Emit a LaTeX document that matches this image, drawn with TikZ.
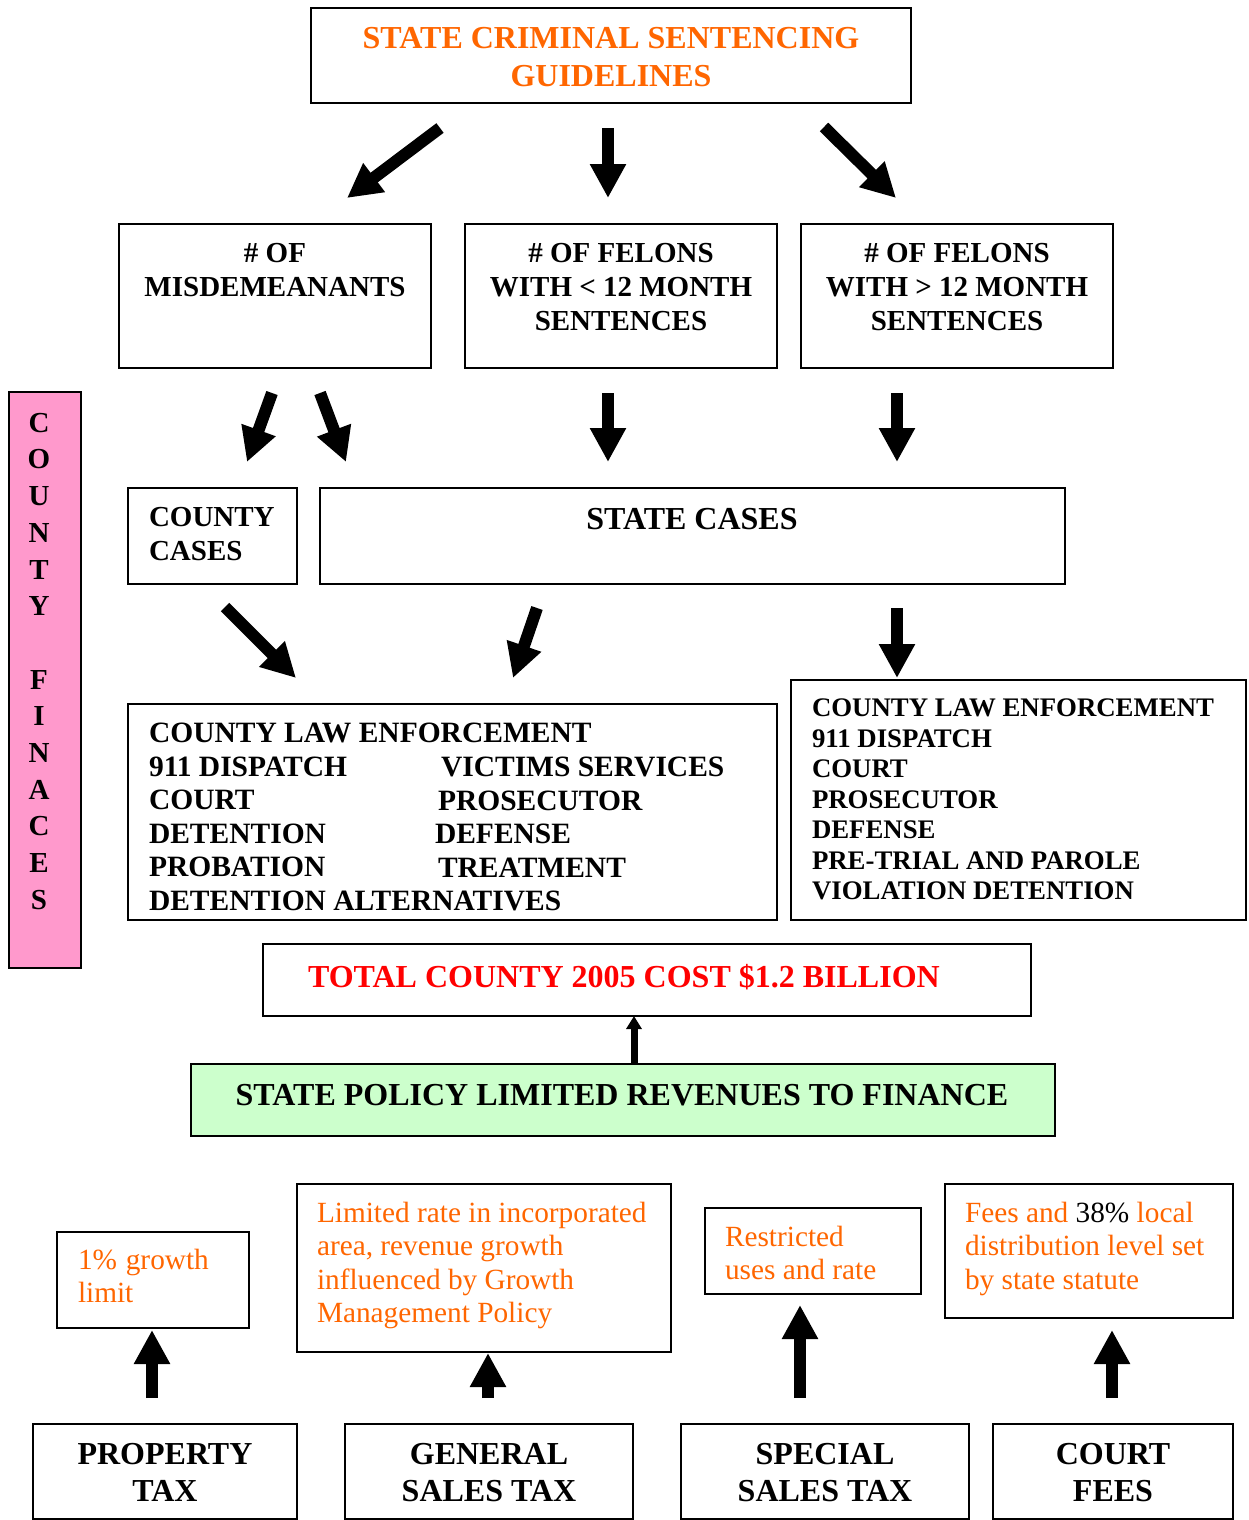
\documentclass[tikz,border=0pt]{standalone}
\usepackage{fontspec}
\setmainfont{Liberation Serif}
\usetikzlibrary{arrows.meta,calc}
\definecolor{orng}{HTML}{FF6600}
\definecolor{pinkfill}{HTML}{FF99CC}
\definecolor{greenfill}{HTML}{CCFFCC}
\newcommand\fBig{\fontsize{32}{38}\selectfont\bfseries}
\newcommand\fMid{\fontsize{29}{34}\selectfont\bfseries}
\newcommand\fLeft{\fontsize{29.5}{33.6}\selectfont\bfseries}
\newcommand\fRight{\fontsize{26.8}{30.5}\selectfont\bfseries}
\newcommand\fBot{\fontsize{32}{37}\selectfont\bfseries}
\newcommand\fOr{\fontsize{29.3}{33.5}\selectfont}
\newcommand\fVert{\fontsize{29}{36.7}\selectfont\bfseries}
\begin{document}
\begin{tikzpicture}[x=1pt,y=-1pt,
  box/.style={draw=black, line width=2.2pt, rectangle, inner sep=0pt, outer sep=0pt},
  txt/.style={inner sep=0pt, outer sep=0pt},
  barrow/.style={line width=12pt, -{Triangle[width=34pt,length=34pt]}},
  sarrow/.style={line width=7pt, -{Triangle[width=15pt,length=13pt]}}]
\useasboundingbox[fill=white] (0,0) rectangle (1248,1520);

% boxes
\node[box, minimum width=600, minimum height=95] (title) at (611,55.5) {};
\node[box, minimum width=312, minimum height=144] (mis) at (275,296) {};
\node[box, minimum width=312, minimum height=144] (fl) at (621,296) {};
\node[box, minimum width=312, minimum height=144] (fg) at (957,296) {};
\node[box, minimum width=72, minimum height=576, fill=pinkfill] (pink) at (45,680) {};
\node[box, minimum width=169, minimum height=96] (cc) at (212.5,536) {};
\node[box, minimum width=745, minimum height=96] (sc) at (692.5,536) {};
\node[box, minimum width=649, minimum height=216] (lb) at (452.5,812) {};
\node[box, minimum width=455, minimum height=240] (rb) at (1018.5,800) {};
\node[box, minimum width=768, minimum height=72] (tot) at (647,980) {};
\node[box, minimum width=864, minimum height=72, fill=greenfill] (grn) at (623,1100) {};
\node[box, minimum width=192, minimum height=96] (g1) at (153,1280) {};
\node[box, minimum width=374, minimum height=168] (g2) at (484,1268) {};
\node[box, minimum width=216, minimum height=86] (g3) at (813,1251) {};
\node[box, minimum width=288, minimum height=134] (g4) at (1089,1251) {};
\node[box, minimum width=264, minimum height=95] (p1) at (165,1471.5) {};
\node[box, minimum width=288, minimum height=95] (p2) at (489,1471.5) {};
\node[box, minimum width=288, minimum height=95] (p3) at (825,1471.5) {};
\node[box, minimum width=240, minimum height=95] (p4) at (1113,1471.5) {};

% texts
\node[txt, font=\fBig, text=orng, align=center, anchor=north] (titletxt) at (611,27) {STATE CRIMINAL SENTENCING\\GUIDELINES};
\node[txt, font=\fMid, align=center, anchor=north] (mistxt) at (275,243) {\# OF\\MISDEMEANANTS};
\node[txt, font=\fMid, align=center, anchor=north] (fltxt) at (621,243) {\# OF FELONS\\WITH < 12 MONTH\\SENTENCES};
\node[txt, font=\fMid, align=center, anchor=north] (fgtxt) at (957,243) {\# OF FELONS\\WITH > 12 MONTH\\SENTENCES};
\node[txt, font=\fVert, align=center, anchor=north] (pinktxt) at (39,413) {C\\O\\U\\N\\T\\Y\\[36.7pt]F\\I\\N\\A\\C\\E\\S};
\node[txt, font=\fMid, align=left, anchor=north west] (cctxt) at (149,507) {COUNTY\\CASES};
\node[txt, font=\fBig, anchor=north] (sctxt) at (692,508) {STATE CASES};
\node[txt, font=\fLeft, align=left, anchor=north west] (lbtxt) at (149,723) {COUNTY LAW ENFORCEMENT\\911 DISPATCH\\COURT\\DETENTION\\PROBATION\\DETENTION ALTERNATIVES};
\node[txt, font=\fLeft, align=left, anchor=north west] (lbtxtb) at (435,757) {\hspace*{6pt}VICTIMS SERVICES\\\hspace*{3pt}PROSECUTOR\\DEFENSE\\\hspace*{3pt}TREATMENT};
\node[txt, font=\fRight, align=left, anchor=north west] (rbtxt) at (812,699) {COUNTY LAW ENFORCEMENT\\911 DISPATCH\\COURT\\PROSECUTOR\\DEFENSE\\PRE-TRIAL AND PAROLE\\VIOLATION DETENTION};
\node[txt, font=\fBig, text=red, anchor=north west] (tottxt) at (308,964) {TOTAL COUNTY 2005 COST \$1.2 BILLION};
\node[txt, font=\fBig, anchor=north] (grntxt) at (622,1084) {STATE POLICY LIMITED REVENUES TO FINANCE};
\node[txt, font=\fOr, text=orng, align=left, anchor=north west] (g1txt) at (78,1249) {1\%\hspace{0.3em}growth\\limit};
\node[txt, font=\fOr, text=orng, align=left, anchor=north west] (g2txt) at (317,1202) {Limited rate in incorporated\\area, revenue growth\\influenced by Growth\\Management Policy};
\node[txt, font=\fOr, text=orng, align=left, anchor=north west] (g3txt) at (725,1226) {Restricted\\uses and rate};
\node[txt, font=\fOr, text=orng, align=left, anchor=north west] (g4txt) at (965,1202) {Fees and {\color{black}38\%} local\\distribution level set\\by state statute};
\node[txt, font=\fBot, align=center, anchor=north] (p1txt) at (165,1443) {PROPERTY\\TAX};
\node[txt, font=\fBot, align=center, anchor=north] (p2txt) at (489,1443) {GENERAL\\SALES TAX};
\node[txt, font=\fBot, align=center, anchor=north] (p3txt) at (825,1443) {SPECIAL\\SALES TAX};
\node[txt, font=\fBot, align=center, anchor=north] (p4txt) at (1113,1443) {COURT\\FEES};

% arrows
\draw[barrow] ($(title.south west)+(129,25)$) -- ($(mis.north)+(72,-26)$);
\draw[barrow] ($(title.south)+(-3,25)$) -- ($(fl.north)+(-13,-26)$);
\draw[barrow] ($(title.south east)+(-87,24)$) -- ($(fg.north)+(-61,-26)$);
\draw[barrow] ($(mis.south)+(-3,25)$) -- ($(cc.north)+(34.5,-26)$);
\draw[barrow] ($(mis.south)+(45,25)$) -- ($(sc.north west)+(26,-26)$);
\draw[barrow] ($(fl.south)+(-13,25)$) -- ($(sc.north)+(-84.5,-26)$);
\draw[barrow] ($(fg.south)+(-60,25)$) -- ($(sc.north)+(204.5,-26)$);
\draw[barrow] ($(cc.south)+(12.5,23)$) -- ($(lb.north west)+(168,-26)$);
\draw[barrow] ($(sc.south)+(-155.5,24)$) -- ($(lb.north)+(60.5,-26)$);
\draw[barrow] ($(sc.south)+(204.5,24)$) -- ($(rb.north)+(-121.5,-2)$);
\draw[sarrow] ($(grn.north)+(11,0)$) -- ($(tot.south)+(-13,0)$);
\draw[barrow] ($(p1.north)+(-13,-26)$) -- ($(g1.south)+(-1,2)$);
\draw[barrow] ($(p2.north)+(-1,-26)$) -- ($(g2.south)+(4,1)$);
\draw[barrow] ($(p3.north)+(-25,-26)$) -- ($(g3.south)+(-13,11)$);
\draw[barrow] ($(p4.north)+(-1,-26)$) -- ($(g4.south)+(23,12)$);
\end{tikzpicture}
\end{document}
